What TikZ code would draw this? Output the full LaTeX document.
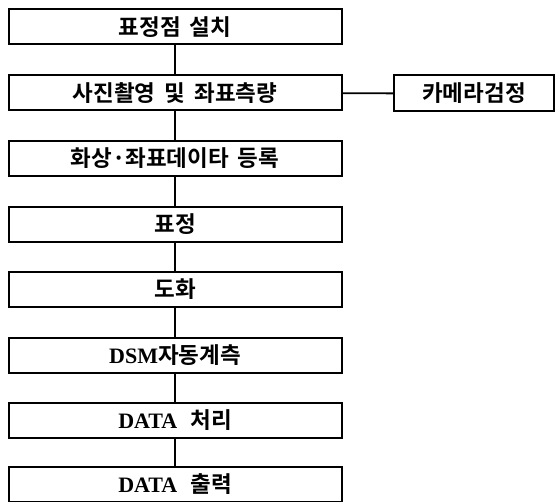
\documentclass[tikz,border=0pt]{standalone}
\usepackage{fontspec}
\newfontfamily\kr{Noto Sans CJK KR}[BoldFont={* Bold}]
\newfontfamily\tnr{Liberation Serif}
\newcommand\gp{\hspace{9pt}}
\newcommand\lat[1]{{\tnr\bfseries\fontsize{22}{24}\selectfont #1}}
\begin{document}
\begin{tikzpicture}[x=1pt,y=-1pt,
  txt/.style={font=\kr\bfseries\fontsize{22.5}{24}\selectfont},
  stepbox/.style={draw,line width=2pt,minimum width=333pt,minimum height=35pt,inner sep=0pt,txt},
  cambox/.style={draw,line width=2pt,minimum width=160pt,minimum height=36pt,inner sep=0pt,txt},
  conn/.style={line width=1.8pt}]
\useasboundingbox (0,0) rectangle (556,502);
\node[stepbox] (s1) at (175,27) {표정점\gp 설치};
\node[stepbox] (s2) at (175,93) {사진촬영\gp 및\gp 좌표측량};
\node[stepbox] (s3) at (175,158.5) {화상·좌표데이타\gp 등록};
\node[stepbox] (s4) at (175,224.5) {표정};
\node[stepbox] (s5) at (175,289.5) {도화};
\node[stepbox] (s6) at (175,355) {\lat{DSM}자동계측};
\node[stepbox] (s7) at (175,420.5) {\lat{DATA}\hspace{13pt}처리};
\node[stepbox] (s8) at (175,484) {\lat{DATA}\hspace{13pt}출력};
\node[cambox] (cam) at (474,93.5) {카메라검정};
\draw[conn] (s1) -- (s2);
\draw[conn] (s2) -- (s3);
\draw[conn] (s3) -- (s4);
\draw[conn] (s4) -- (s5);
\draw[conn] (s5) -- (s6);
\draw[conn] (s6) -- (s7);
\draw[conn] (s7) -- (s8);
\draw[conn] (s2) -- (cam);
\end{tikzpicture}
\end{document}
